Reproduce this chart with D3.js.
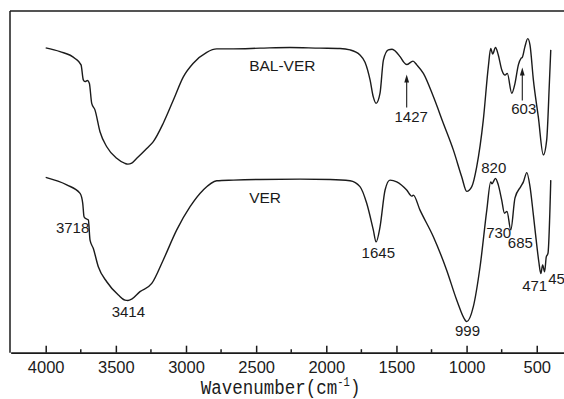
<!DOCTYPE html>
<html>
<head>
<meta charset="utf-8">
<script src="https://cdn.jsdelivr.net/npm/d3@7"></script>
<style>
  html, body { margin: 0; padding: 0; background: #fff; }
  svg { display: block; }
</style>
</head>
<body>
<svg id="chart" width="564" height="399"></svg>
<script>
// FT-IR spectra: wavenumber (cm-1) vs. transmittance (arbitrary, offset traces)
const majorTicks = [4000, 3500, 3000, 2500, 2000, 1500, 1000, 500];
const minorTicks = [3750, 3250, 2750, 2250, 1750, 1250, 750];

const seriesNames = ["BAL-VER", "VER"];

// [wavenumber, transmittance]
const balVer = [
  [4000, 89.2], [3898, 88.1], [3791, 86.1], [3748, 84.2], [3732, 79.8],
  [3720, 79.3], [3703, 79.6], [3689, 78.8], [3672, 72.9], [3649, 71.0],
  [3613, 64.6], [3565, 60.2], [3494, 56.8], [3435, 55.3], [3414, 55.1],
  [3387, 55.4], [3351, 56.8], [3280, 59.7], [3233, 61.7], [3162, 67.1],
  [3090, 73.9], [3019, 80.7], [2948, 84.7], [2852, 87.9], [2781, 88.9],
  [2663, 88.9], [2472, 89.1], [2259, 89.3], [2045, 89.1], [1902, 89.0],
  [1831, 88.6], [1760, 87.1], [1724, 85.0], [1688, 79.8], [1665, 74.8],
  [1645, 72.9], [1617, 75.9], [1593, 85.6], [1558, 88.6], [1531, 88.8],
  [1474, 86.6], [1448, 85.0], [1427, 84.3], [1382, 85.3], [1355, 84.2],
  [1308, 81.7], [1237, 74.9], [1166, 67.1], [1094, 59.2], [1035, 51.4],
  [999, 47.1], [963, 48.5], [928, 54.3], [881, 68.0], [845, 83.7],
  [828, 89.0], [814, 87.4], [794, 89.3], [774, 87.1], [749, 82.7],
  [726, 81.2], [710, 81.7], [678, 75.9], [655, 78.8], [631, 84.2],
  [612, 86.1], [603, 86.4], [585, 89.4], [564, 91.9], [548, 90.0],
  [524, 79.8], [489, 69.0], [453, 57.8], [429, 62.2], [410, 78.8],
  [400, 88.6]
];

const ver = [
  [4000, 51.2], [3850, 49.0], [3755, 46.5], [3736, 43.6], [3727, 39.7],
  [3718, 39.2], [3696, 38.7], [3684, 32.8], [3661, 30.4], [3625, 25.0],
  [3565, 20.6], [3482, 16.7], [3435, 15.2], [3414, 15.1], [3387, 15.5],
  [3328, 17.7], [3244, 20.1], [3162, 27.0], [3066, 35.8], [2971, 42.6],
  [2877, 47.5], [2781, 50.2], [2663, 50.4], [2472, 50.6], [2187, 50.7],
  [1973, 50.6], [1831, 50.2], [1760, 48.5], [1712, 43.6], [1665, 35.8],
  [1645, 32.3], [1617, 36.7], [1581, 47.5], [1546, 50.4], [1498, 49.9],
  [1427, 47.5], [1391, 45.7], [1380, 46.0], [1332, 41.6], [1237, 33.8],
  [1142, 24.0], [1070, 15.2], [1011, 9.4], [999, 8.9], [952, 13.3],
  [904, 25.0], [856, 41.6], [828, 49.9], [820, 49.3], [794, 50.9],
  [774, 49.0], [750, 44.6], [730, 40.7], [712, 41.2], [685, 35.8],
  [655, 45.2], [614, 48.5], [595, 49.9], [571, 52.6], [548, 48.5],
  [524, 40.2], [500, 31.4], [485, 26.4], [471, 23.0], [458, 25.5],
  [444, 23.5], [432, 27.9], [420, 28.9], [400, 50.4]
];

// band assignments: text, wavenumber of the band, trace it belongs to
const bandTexts   = ["3718", "3414", "1645", "999", "820", "730", "685", "471", "45"];
const bandNumbers = [3718, 3414, 1645, 999, 820, 730, 685, 471, 444];
const arrowTexts   = ["1427", "603"];
const arrowNumbers = [1427, 603];

// ---------- layout ----------
const W = 564, H = 399;
const frame = { left: 10, top: 11, bottom: 352.7 };
const ink = "#1b1b1b";
const labelFont = "'Liberation Sans', Arial, Helvetica, sans-serif";

// label offsets (px) from the band point on its trace
const bandLayout = {
  "3718": { dx: 4,    dy: 14.4, anchor: "end" },
  "3414": { dx: 0.4,  dy: 16.2, anchor: "middle" },
  "1645": { dx: 2.2,  dy: 15.8, anchor: "middle" },
  "999":  { dx: 0.8,  dy: 14.3, anchor: "middle" },
  "820":  { dx: 1.9,  dy: -10.7, anchor: "middle" },
  "730":  { dx: -5.8, dy: 25,   anchor: "middle" },
  "685":  { dx: 9.6,  dy: 18.3, anchor: "middle" },
  "471":  { dx: -6.1, dy: 17.5, anchor: "middle" },
  "45":   { dx: 3.6,  dy: 12.3, anchor: "start" }
};
const arrowLayout = { gap: 10, length: 33, textDx: [4.5, 1.5], textDy: 57 };

const svg = d3.select("#chart");

const x = d3.scaleLinear().domain([4250, 300]).range([10.63, 564.8]);
const y = d3.scaleLinear().domain([0, 100]).range([352, 11]);

const traces = { "BAL-VER": balVer, "VER": ver };
const valueAt = (data, wn) => data.find(d => d[0] === wn)[1];

// frame: top and left borders
svg.append("line")
  .attr("x1", frame.left).attr("x2", W).attr("y1", frame.top).attr("y2", frame.top)
  .attr("stroke", ink).attr("stroke-width", 1.5);
svg.append("line")
  .attr("x1", frame.left).attr("x2", frame.left).attr("y1", frame.top).attr("y2", frame.bottom)
  .attr("stroke", ink).attr("stroke-width", 1.5);

// bottom axis with inward ticks
const axisG = svg.append("g")
  .attr("transform", `translate(0,${frame.bottom})`)
  .call(d3.axisBottom(x).tickValues(majorTicks).tickSize(-7).tickSizeOuter(0).tickFormat(d3.format("d")));
axisG.select(".domain").attr("stroke", ink).attr("stroke-width", 1.8);
axisG.selectAll(".tick line").attr("stroke", ink).attr("stroke-width", 1.5);
axisG.selectAll(".tick text")
  .attr("y", 20.6).attr("dy", null)
  .attr("fill", ink)
  .style("font-family", labelFont).style("font-size", "16.5px");

axisG.selectAll(".minor")
  .data(minorTicks).enter().append("line")
  .attr("class", "minor")
  .attr("x1", d => x(d)).attr("x2", d => x(d))
  .attr("y1", 0).attr("y2", -3.5)
  .attr("stroke", ink).attr("stroke-width", 1.5);

// axis title
const title = svg.append("text")
  .attr("transform", "translate(280.6,394) scale(0.875,1)")
  .attr("text-anchor", "middle")
  .attr("fill", ink)
  .style("font-family", "'Liberation Mono', 'DejaVu Sans Mono', monospace")
  .style("font-size", "20px");
title.append("tspan").text("Wavenumber(cm");
title.append("tspan").attr("dy", -8).style("font-size", "12px").text("-1");
title.append("tspan").attr("dy", 8).text(")");

// spectra
const line = d3.line()
  .x(d => x(d[0]))
  .y(d => y(d[1]))
  .curve(d3.curveMonotoneX);

seriesNames.forEach(name => {
  svg.append("path")
    .datum(traces[name])
    .attr("d", line)
    .attr("fill", "none")
    .attr("stroke", ink)
    .attr("stroke-width", 1.4)
    .attr("stroke-linejoin", "round");
});

// trace names
const seriesLabelPos = { "BAL-VER": [2550, 82.5], "VER": [2550, 43.6] };
seriesNames.forEach(name => {
  svg.append("text")
    .attr("x", x(seriesLabelPos[name][0]))
    .attr("y", y(seriesLabelPos[name][1]))
    .attr("fill", ink)
    .style("font-family", labelFont)
    .style("font-size", "15.5px")
    .text(name);
});

// band labels on VER
bandTexts.forEach((t, i) => {
  const wn = bandNumbers[i];
  const L = bandLayout[t];
  svg.append("text")
    .attr("x", x(wn) + L.dx)
    .attr("y", y(valueAt(ver, wn)) + L.dy)
    .attr("text-anchor", L.anchor)
    .attr("fill", ink)
    .style("font-family", labelFont)
    .style("font-size", "15px")
    .text(t);
});

// arrows with labels on BAL-VER
arrowTexts.forEach((t, i) => {
  const wn = arrowNumbers[i];
  const px = x(wn);
  const py = y(valueAt(balVer, wn));
  const tip = py + arrowLayout.gap;
  const tail = tip + arrowLayout.length;
  svg.append("line")
    .attr("x1", px).attr("x2", px).attr("y1", tail).attr("y2", tip + 6)
    .attr("stroke", ink).attr("stroke-width", 1.1);
  svg.append("path")
    .attr("d", `M${px},${tip} L${px - 2.4},${tip + 8} L${px + 2.4},${tip + 8} Z`)
    .attr("fill", ink);
  svg.append("text")
    .attr("x", px + arrowLayout.textDx[i])
    .attr("y", py + arrowLayout.textDy)
    .attr("text-anchor", "middle")
    .attr("fill", ink)
    .style("font-family", labelFont)
    .style("font-size", "15px")
    .text(t);
});
</script>
</body>
</html>
